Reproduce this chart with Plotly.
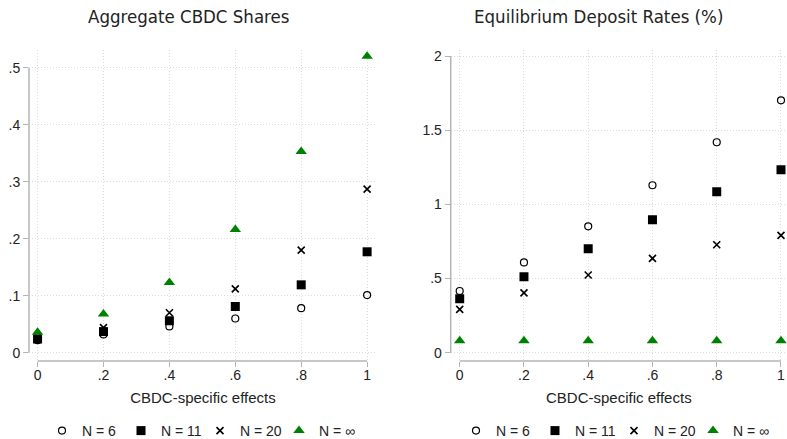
import plotly.graph_objects as go
from plotly.subplots import make_subplots

# ---- data ----
x_vals = [0, 0.2, 0.4, 0.6, 0.8, 1]
x_ticktext = ["0", ".2", ".4", ".6", ".8", "1"]

share_n6 = [0.022, 0.032, 0.046, 0.060, 0.078, 0.101]
share_n11 = [0.024, 0.037, 0.056, 0.081, 0.119, 0.177]
share_n20 = [0.028, 0.044, 0.070, 0.112, 0.180, 0.287]
share_inf = [0.036, 0.068, 0.123, 0.216, 0.353, 0.520]
share_ticks = [0, 0.1, 0.2, 0.3, 0.4, 0.5]
share_ticktext = ["0", ".1", ".2", ".3", ".4", ".5"]

rate_n6 = [0.416, 0.609, 0.852, 1.129, 1.419, 1.702]
rate_n11 = [0.364, 0.512, 0.701, 0.897, 1.086, 1.234]
rate_n20 = [0.292, 0.403, 0.524, 0.636, 0.728, 0.791]
rate_inf = [0.08, 0.08, 0.08, 0.08, 0.08, 0.08]
rate_ticks = [0, 0.5, 1, 1.5, 2]
rate_ticktext = ["0", ".5", "1", "1.5", "2"]

series_names = ["N = 6", "N = 11", "N = 20", "N = ∞"]
titles = ["Aggregate CBDC Shares", "Equilibrium Deposit Rates (%)"]
x_title = "CBDC-specific effects"

# ---- style ----
W, H = 787, 439
FONT = "Liberation Sans Narrow, Liberation Sans, Arial, sans-serif"
TFONT = "DejaVu Sans Condensed, Liberation Sans, sans-serif"
GREEN = "#008000"
AXIS_C = "#b4b4b4"
GRID_C = "#dcdcdc"

markers = [
    dict(symbol="circle-open", size=7, color="black", line=dict(width=1.2, color="black")),
    dict(symbol="square", size=9, color="black"),
    dict(symbol="x-thin", size=7, color="black", line=dict(width=1.6, color="black")),
    dict(symbol="triangle-up", size=10, color=GREEN),
]

fig = make_subplots(rows=1, cols=2)

left_series = [share_n6, share_n11, share_n20, share_inf]
right_series = [rate_n6, rate_n11, rate_n20, rate_inf]
for i, (ys, name) in enumerate(zip(left_series, series_names)):
    fig.add_trace(go.Scatter(x=x_vals, y=ys, mode="markers", name=name,
                             marker=markers[i], legend="legend"), row=1, col=1)
for i, (ys, name) in enumerate(zip(right_series, series_names)):
    fig.add_trace(go.Scatter(x=x_vals, y=ys, mode="markers", name=name,
                             marker=markers[i], legend="legend2"), row=1, col=2)

top_px, bot_px = 50, 361
ydom = [(H - bot_px) / H, (H - top_px) / H]

common_x = dict(tickvals=x_vals, ticktext=x_ticktext, showgrid=True, gridcolor=GRID_C,
                griddash="1px,2px", gridwidth=1, zeroline=False, showline=False,
                ticks="outside", ticklen=5, tickcolor=AXIS_C, tickwidth=1.2,
                automargin=False, ticklabelstandoff=-4,
                tickfont=dict(family=FONT, size=14, color="#222"),
                title=dict(text=x_title, font=dict(family=FONT, size=15, color="#222"), standoff=10))
common_y = dict(showgrid=True, gridcolor=GRID_C, griddash="1px,2px", gridwidth=1,
                zeroline=False, showline=False, ticks="outside", ticklen=5,
                tickcolor=AXIS_C, tickwidth=1.2, automargin=False,
                tickfont=dict(family=FONT, size=14, color="#222"))

fig.update_xaxes(**common_x)
fig.update_yaxes(**common_y)

fig.update_layout(
    xaxis=dict(domain=[29 / W, 377 / W], range=[-0.026, 1.03]),
    yaxis=dict(domain=ydom, range=[-0.0146, 0.531], tickvals=share_ticks, ticktext=share_ticktext),
    xaxis2=dict(domain=[450.7 / W, 1], range=[-0.028, 1.0187]),
    yaxis2=dict(domain=ydom, range=[-0.056, 2.041], tickvals=rate_ticks, ticktext=rate_ticktext),
)

# Stata-style axis lines spanning only the tick range
for xr, yr, yt in [("x", "y", share_ticks), ("x2", "y2", rate_ticks)]:
    fig.add_shape(type="line", xref=xr, yref=yr + " domain", x0=x_vals[0], x1=x_vals[-1],
                  y0=0, y1=0, line=dict(color=AXIS_C, width=1.5))
    fig.add_shape(type="line", xref=xr + " domain", yref=yr, x0=0, x1=0,
                  y0=yt[0], y1=yt[-1], line=dict(color=AXIS_C, width=1.5))

# titles
for txt, cx in zip(titles, [188, 598]):
    fig.add_annotation(text=txt, x=cx / W, y=1 - 17 / H, xref="paper", yref="paper",
                       xanchor="center", yanchor="middle", showarrow=False,
                       font=dict(family=TFONT, size=18.5, color="#222"))

leg_common = dict(orientation="h", yanchor="middle", y=1 - 431 / H, xanchor="center",
                  font=dict(family=FONT, size=14, color="#222"), bgcolor="rgba(0,0,0,0)",
                  itemwidth=30, tracegroupgap=0, entrywidth=34, entrywidthmode="pixels")
fig.update_layout(
    legend=dict(x=200 / W, **leg_common),
    legend2=dict(x=614 / W, **leg_common),
    width=W, height=H, margin=dict(l=0, r=0, t=0, b=0, autoexpand=False),
    plot_bgcolor="white", paper_bgcolor="white", showlegend=True,
)

fig.write_html("out.html")
